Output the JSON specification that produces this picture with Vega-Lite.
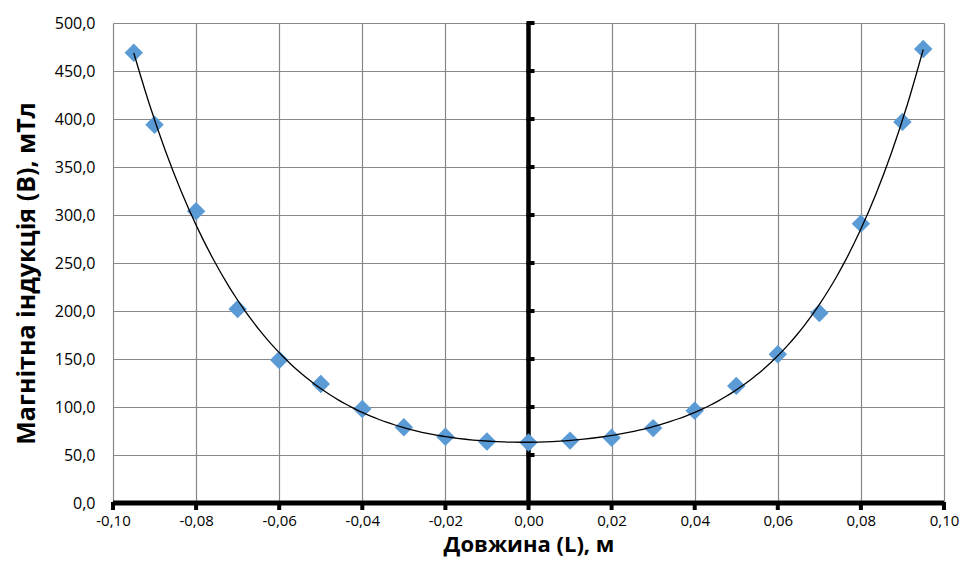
{
  "$schema": "https://vega.github.io/schema/vega-lite/v6.json",
  "width": 831,
  "height": 480,
  "autosize": "none",
  "padding": {"left": 113, "top": 23, "right": 18, "bottom": 62},
  "background": "white",
  "config": {"view": {"stroke": null}, "font": "Open Sans"},
  "datasets": {
    "pts": [
      {"L": -0.095, "B": 469}, {"L": -0.09, "B": 394}, {"L": -0.08, "B": 304},
      {"L": -0.07, "B": 202}, {"L": -0.06, "B": 149}, {"L": -0.05, "B": 124},
      {"L": -0.04, "B": 98}, {"L": -0.03, "B": 79}, {"L": -0.02, "B": 69},
      {"L": -0.01, "B": 64}, {"L": 0.0, "B": 63}, {"L": 0.01, "B": 65},
      {"L": 0.02, "B": 68}, {"L": 0.03, "B": 78}, {"L": 0.04, "B": 96},
      {"L": 0.05, "B": 122}, {"L": 0.06, "B": 155}, {"L": 0.07, "B": 198},
      {"L": 0.08, "B": 291}, {"L": 0.09, "B": 397}, {"L": 0.095, "B": 473}
    ],
    "yticks": [
      {"L": 0, "B": 0}, {"L": 0, "B": 50}, {"L": 0, "B": 100}, {"L": 0, "B": 150},
      {"L": 0, "B": 200}, {"L": 0, "B": 250}, {"L": 0, "B": 300}, {"L": 0, "B": 350},
      {"L": 0, "B": 400}, {"L": 0, "B": 450}, {"L": 0, "B": 500}
    ],
    "xticks": [
      {"L": -0.1, "B": 0}, {"L": -0.08, "B": 0}, {"L": -0.06, "B": 0}, {"L": -0.04, "B": 0},
      {"L": -0.02, "B": 0}, {"L": 0, "B": 0}, {"L": 0.02, "B": 0}, {"L": 0.04, "B": 0},
      {"L": 0.06, "B": 0}, {"L": 0.08, "B": 0}, {"L": 0.1, "B": 0}
    ],
    "axis0": [
      {"L": 0, "B": 0, "B2": 500}
    ],
    "axisx": [
      {"L": -0.1, "L2": 0.1, "B": 0}
    ]
  },
  "layer": [
    {
      "data": {"name": "axis0"},
      "mark": {"type": "rule", "color": "black", "strokeWidth": 4.5},
      "encoding": {
        "x": {"field": "L", "type": "quantitative"},
        "y": {"field": "B", "type": "quantitative"},
        "y2": {"field": "B2"}
      }
    },
    {
      "data": {"name": "axisx"},
      "mark": {"type": "rule", "color": "black", "strokeWidth": 5},
      "encoding": {
        "x": {"field": "L", "type": "quantitative"},
        "x2": {"field": "L2"},
        "y": {"field": "B", "type": "quantitative"}
      }
    },
    {
      "data": {"name": "yticks"},
      "mark": {"type": "tick", "orient": "horizontal", "color": "black", "size": 8, "thickness": 4, "xOffset": 2, "opacity": 1},
      "encoding": {
        "x": {"field": "L", "type": "quantitative"},
        "y": {"field": "B", "type": "quantitative"}
      }
    },
    {
      "data": {"name": "xticks"},
      "mark": {"type": "tick", "orient": "vertical", "color": "black", "size": 8, "thickness": 4, "yOffset": 3, "opacity": 1},
      "encoding": {
        "x": {"field": "L", "type": "quantitative"},
        "y": {"field": "B", "type": "quantitative"}
      }
    },
    {
      "data": {"name": "pts"},
      "mark": {"type": "point", "shape": "diamond", "filled": true, "size": 340, "color": "#5B9BD5", "opacity": 1},
      "encoding": {
        "x": {
          "field": "L", "type": "quantitative",
          "scale": {"domain": [-0.1, 0.1], "nice": false, "zero": false},
          "axis": {
            "title": "Довжина (L), м",
            "titleFont": "Open Sans", "titleFontSize": 22, "titleFontWeight": "bold", "titleColor": "black",
            "titlePadding": 6,
            "values": [-0.1, -0.08, -0.06, -0.04, -0.02, 0, 0.02, 0.04, 0.06, 0.08, 0.1],
            "labelExpr": "replace(replace(format(datum.value, '.2f'), '.', ','), '\u2212', '-')",
            "labelFont": "Open Sans", "labelFontSize": 15, "labelColor": "black", "labelPadding": 10,
            "labelFlush": false,
            "domain": false, "ticks": false,
            "gridColor": "#888888", "gridWidth": 1.2, "gridOpacity": 1
          }
        },
        "y": {
          "field": "B", "type": "quantitative",
          "scale": {"domain": [0, 500], "nice": false},
          "axis": {
            "title": "Магнітна індукція (B), мТл",
            "titleFont": "Open Sans", "titleFontSize": 25, "titleFontWeight": "bold", "titleColor": "black",
            "titlePadding": 15,
            "titleY": 250,
            "values": [0, 50, 100, 150, 200, 250, 300, 350, 400, 450, 500],
            "labelExpr": "replace(format(datum.value, '.1f'), '.', ',')",
            "labelFont": "Open Sans", "labelFontSize": 16, "labelColor": "black", "labelPadding": 18,
            "labelFlush": false,
            "domain": false, "ticks": false,
            "gridColor": "#888888", "gridWidth": 1.2, "gridOpacity": 1
          }
        }
      }
    },
    {
      "data": {"name": "pts"},
      "transform": [
        {"regression": "B", "on": "L", "method": "poly", "order": 6, "extent": [-0.095, 0.095]}
      ],
      "mark": {"type": "line", "color": "black", "strokeWidth": 1.3, "interpolate": "monotone"},
      "encoding": {
        "x": {"field": "L", "type": "quantitative"},
        "y": {"field": "B", "type": "quantitative"}
      }
    }
  ]
}
